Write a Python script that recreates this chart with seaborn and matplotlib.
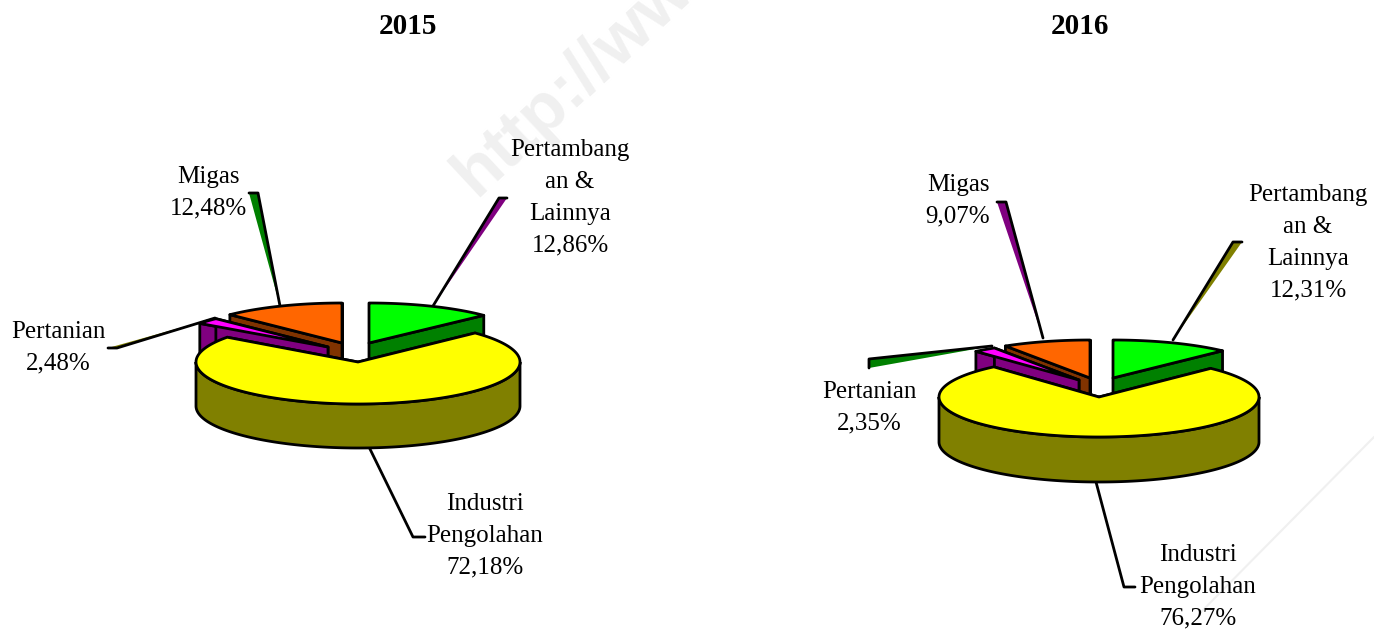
import numpy as np
import pandas as pd
import seaborn as sns
import matplotlib.pyplot as plt

years = ["2015", "2016"]
sectors = ["Pertambangan & Lainnya", "Industri Pengolahan", "Pertanian", "Migas"]
values_2015 = [12.86, 72.18, 2.48, 12.48]
values_2016 = [12.31, 76.27, 2.35, 9.07]

text_2015 = ["Pertambang\nan &\nLainnya\n12,86%", "Industri\nPengolahan\n72,18%", "Pertanian\n2,48%", "Migas\n12,48%"]
text_2016 = ["Pertambang\nan &\nLainnya\n12,31%", "Industri\nPengolahan\n76,27%", "Pertanian\n2,35%", "Migas\n9,07%"]

df = pd.DataFrame({"sector": sectors, "2015": values_2015, "2016": values_2016})

sns.set_theme(style="white")
plt.rcParams["font.family"] = ["Liberation Serif", "DejaVu Serif"]

# layout in pixels, one entry per pie
layout = {
    "2015": dict(title=(408, 27), center=(358, 362), rx=162, ry=42, depth=44,
                 offs=[(11, -19), (0, 0), (-30, -15), (-16, -19)],
                 text=text_2015,
                 text_pos=[(570, 198), (485, 536), (58, 348), (208, 193)],
                 leader=[[(433, 306), (499, 198), (507, 198)],
                         [(369, 447), (413, 537), (425, 537)],
                         [(215, 318), (117, 348), (108, 348)],
                         [(280, 306), (258, 193), (249, 193)]],
                 fill=["#800080", None, "#808000", "#008000"]),
    "2016": dict(title=(1080, 27), center=(1099, 397), rx=160, ry=40, depth=45,
                 offs=[(14, -19), (0, 0), (-20, -17), (-9, -19)],
                 text=text_2016,
                 text_pos=[(1308, 243), (1198, 587), (869, 408), (958, 201)],
                 leader=[[(1173, 340), (1233, 242), (1242, 242)],
                         [(1096, 482), (1124, 587), (1135, 587)],
                         [(992, 346), (869, 359), (869, 368)],
                         [(1043, 338), (1006, 202), (997, 202)]],
                 fill=["#808000", None, "#008000", "#800080"]),
}

top_colors = ["#00ff00", "#ffff00", "#ff00ff", "#ff6600"]
side_colors = ["#008000", "#808000", "#800080", "#803300"]
draw_order = [0, 3, 2, 1]
lw = 2.0


def rim(c, rx, ry, a, b):
    t = np.radians(np.linspace(a, b, 200))
    return np.column_stack([c[0] + rx * np.cos(t), c[1] - ry * np.sin(t)])


def draw_slice(ax, c, rx, ry, depth, a0, a1, top, side):
    # cut faces first, they end up under the top of the slice
    for a in (a0, a1):
        p = rim(c, rx, ry, a, a)[0]
        ax.fill([c[0], p[0], p[0], c[0]], [c[1], p[1], p[1] + depth, c[1] + depth],
                facecolor=side, edgecolor="black", lw=lw, joinstyle="round", zorder=2)
    # outer wall, only the part below the horizontal axis is seen
    lo, hi = max(a1, -180), min(a0, 0)
    if lo < hi:
        arc = rim(c, rx, ry, lo, hi)
        wall = np.vstack([arc, arc[::-1] + [0, depth]])
        ax.fill(wall[:, 0], wall[:, 1], facecolor=side, edgecolor="black", lw=lw, zorder=2)
    edge = np.vstack([[c], rim(c, rx, ry, a0, a1)])
    ax.fill(edge[:, 0], edge[:, 1], facecolor=top, edgecolor="black", lw=lw,
            joinstyle="round", zorder=2)


fig = plt.figure(figsize=(13.74, 6.3), dpi=100)
ax = fig.add_axes([0, 0, 1, 1])
ax.set_xlim(0, 1374)
ax.set_ylim(630, 0)
ax.axis("off")

# faint watermark of the source page
ax.text(476, 198, "http://ww", rotation=43, rotation_mode="anchor", ha="left", va="baseline",
        fontsize=50, fontweight="bold", family="Liberation Sans", color="#f0f0f0", zorder=0)
ax.plot([1374, 1200], [437, 613], color="#f0f0f0", lw=1.5, zorder=0)

for year in years:
    L = layout[year]
    vals = df[year].to_numpy()
    ends = 90 - np.cumsum(vals) * 3.6
    starts = np.r_[90, ends[:-1]]

    ax.text(*L["title"], year, ha="center", va="center", fontsize=21, fontweight="bold",
            color="black")

    for i in draw_order:
        c = (L["center"][0] + L["offs"][i][0], L["center"][1] + L["offs"][i][1])
        shrink = 1 if i == 1 else 0.98
        ry = L["ry"] if i == 1 else L["ry"] - 2
        draw_slice(ax, c, L["rx"] * shrink, ry, L["depth"], starts[i], ends[i],
                   top_colors[i], side_colors[i])

    for i, pts in enumerate(L["leader"]):
        pts = np.array(pts, dtype=float)
        if L["fill"][i]:
            ax.fill(pts[:, 0], pts[:, 1], facecolor=L["fill"][i], edgecolor="none", zorder=1)
        ax.plot(pts[:, 0], pts[:, 1], color="black", lw=lw, solid_joinstyle="round", zorder=1.5)
        ax.text(*L["text_pos"][i], L["text"][i], ha="center", va="center", fontsize=18,
                linespacing=1.57, color="black", zorder=3)

fig.savefig("out.png", dpi=100)
